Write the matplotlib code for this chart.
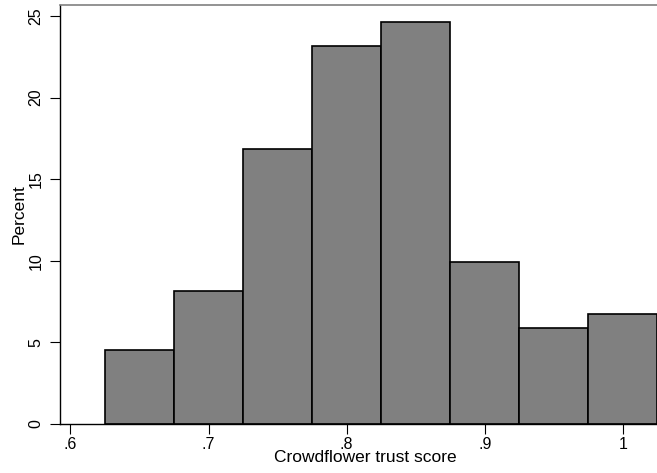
import matplotlib.pyplot as plt
import numpy as np

plt.rcParams['font.family'] = ['Liberation Sans', 'DejaVu Sans']

# histogram bins (left edges) and percent per bin
bin_left = np.array([0.625, 0.675, 0.725, 0.775, 0.825, 0.875, 0.925, 0.975])
bin_width = 0.05
percent = np.array([4.53, 8.17, 16.85, 23.18, 24.63, 9.91, 5.86, 6.74])

x_ticks = [0.6, 0.7, 0.8, 0.9, 1.0]
x_labels = ['.6', '.7', '.8', '.9', '1']
y_ticks = [0, 5, 10, 15, 20, 25]

fig = plt.figure(figsize=(6.57, 4.73), dpi=100)
ax = fig.add_axes([60 / 657, 49 / 473, 597 / 657, 419 / 473])

ax.bar(bin_left, percent, width=bin_width, align='edge',
       color='#808080', edgecolor='black', linewidth=1.2)

ax.set_xlim(0.5924, 1.0247)
ax.set_ylim(0, 25.67)

ax.set_xticks(x_ticks)
ax.set_xticklabels(x_labels)
ax.set_yticks(y_ticks)
ax.set_yticklabels([str(t) for t in y_ticks], rotation=90, va='center')

ax.tick_params(axis='both', labelsize=11.5, length=7, width=0.8)
ax.tick_params(axis='x', pad=2)
ax.tick_params(axis='y', pad=5)
ax.set_xlabel('Crowdflower trust score', fontsize=12.5, labelpad=-1, x=0.511)
ax.set_ylabel('Percent', fontsize=12.5, labelpad=1)

ax.spines['right'].set_visible(False)
ax.spines['top'].set_color('#808080')
ax.spines['top'].set_linewidth(1.2)
ax.spines['left'].set_linewidth(1.0)
ax.spines['bottom'].set_linewidth(1.0)

fig.savefig('out.png', dpi=100)
